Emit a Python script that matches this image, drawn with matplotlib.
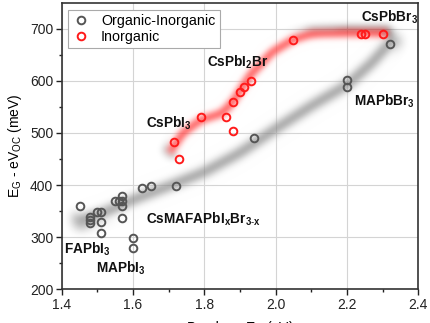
import numpy as np
import matplotlib
matplotlib.use("Agg")
import matplotlib.pyplot as plt

plt.rcParams['font.family'] = ['Liberation Sans', 'DejaVu Sans']
plt.rcParams['mathtext.fontset'] = 'custom'
plt.rcParams['mathtext.rm'] = 'Liberation Sans'
plt.rcParams['mathtext.bf'] = 'Liberation Sans:bold'
plt.rcParams['mathtext.it'] = 'Liberation Sans:italic'

# Organic-inorganic perovskites: bandgap (eV) vs. Voc deficit (meV)
hybrid_eg = [1.45, 1.48, 1.48, 1.48, 1.50, 1.51, 1.51, 1.51, 1.55, 1.56, 1.57,
             1.57, 1.57, 1.57, 1.60, 1.60, 1.625, 1.65, 1.72, 1.94, 2.20, 2.20, 2.32]
hybrid_loss = [360, 339, 333, 328, 349, 349, 329, 309, 369, 369, 380,
               369, 359, 337, 299, 279, 395, 399, 399, 490, 601, 589, 670]

# All-inorganic perovskites
inorg_eg = [1.715, 1.73, 1.79, 1.86, 1.88, 1.88, 1.90, 1.91, 1.93, 2.05, 2.24, 2.25, 2.30]
inorg_loss = [483, 450, 530, 530, 503, 560, 579, 589, 600, 679, 690, 690, 690]

# Guide-to-the-eye trends
hybrid_trend_x = [1.44, 1.52, 1.60, 1.70, 1.80, 1.90, 2.00, 2.10, 2.20, 2.27, 2.335]
hybrid_trend_y = [330, 348, 372, 398, 425, 462, 508, 552, 592, 635, 684]
inorg_trend_x = [1.70, 1.74, 1.79, 1.85, 1.88, 1.93, 1.99, 2.05, 2.10, 2.20, 2.32]
inorg_trend_y = [460, 500, 525, 538, 560, 612, 655, 680, 690, 692, 692]

# Compound labels: (text, x, y)
labels = [
    (r"CsPbBr$_\mathbf{3}$", 2.238, 714),
    (r"CsPbI$_\mathbf{2}$Br", 1.807, 628),
    (r"CsPbI$_\mathbf{3}$", 1.636, 510),
    (r"MAPbBr$_\mathbf{3}$", 2.220, 552),
    (r"CsMAFAPbI$_\mathbf{x}$Br$_\mathbf{3\text{-}x}$", 1.636, 327),
    (r"FAPbI$_\mathbf{3}$", 1.406, 269),
    (r"MAPbI$_\mathbf{3}$", 1.496, 232),
]


def gaussian_blur(sigma_pt):
    """agg_filter that softens an artist with a separable Gaussian kernel."""
    def _filter(im, dpi):
        s = sigma_pt * dpi / 72.0
        pad = int(np.ceil(3 * s))
        out = np.pad(im, ((pad, pad), (pad, pad), (0, 0)))
        r = np.arange(-pad, pad + 1)
        k = np.exp(-0.5 * (r / s) ** 2)
        k /= k.sum()
        for axis in (0, 1):
            acc = np.zeros_like(out)
            for off, w in zip(r, k):
                acc += w * np.roll(out, off, axis=axis)
            out = acc
        return out, -pad, -pad
    return _filter


fig = plt.figure(figsize=(4.30, 3.23), dpi=100)
ax = fig.add_axes([0.1435, 0.1043, 0.8293, 0.8873])

ax.set_xlim(1.4, 2.4)
ax.set_ylim(200, 750)
ax.set_xticks([1.4, 1.6, 1.8, 2.0, 2.2, 2.4])
ax.set_yticks([200, 300, 400, 500, 600, 700])
ax.set_xticks(np.arange(1.5, 2.4, 0.2), minor=True)
ax.set_yticks([250, 350, 450, 550, 650], minor=True)
ax.tick_params(axis='both', which='major', direction='out', length=4, width=1,
               labelsize=10, colors='#222222', pad=2)
ax.tick_params(axis='both', which='minor', direction='out', length=2.5, width=1,
               colors='#222222')
for sp in ax.spines.values():
    sp.set_linewidth(1.2)
    sp.set_color('#333333')

ax.grid(True, which='major', color='#d4d4d4', linewidth=0.8)
ax.set_axisbelow(True)

band_g, = ax.plot(hybrid_trend_x, hybrid_trend_y, color='#707070', lw=9,
                  alpha=0.85, solid_capstyle='butt', solid_joinstyle='round', zorder=2)
band_g.set_agg_filter(gaussian_blur(3.8))
band_r, = ax.plot(inorg_trend_x, inorg_trend_y, color='#ff2a2a', lw=7.5,
                  alpha=0.85, solid_capstyle='butt', solid_joinstyle='round', zorder=2)
band_r.set_agg_filter(gaussian_blur(2.8))

ax.plot(hybrid_eg, hybrid_loss, linestyle='none', marker='o', ms=5.5, mew=1.4,
        mfc='none', mec='#555555', zorder=4, label='Organic-Inorganic')
ax.plot(inorg_eg, inorg_loss, linestyle='none', marker='o', ms=5.5, mew=1.4,
        mfc='none', mec='#ff1a1a', zorder=4, label='Inorganic')

for text, x, y in labels:
    ax.text(x, y, text, fontsize=9.8, fontweight='bold', color='#111111',
            ha='left', va='baseline', zorder=5)

leg = ax.legend(loc='upper left', bbox_to_anchor=(0.018, 0.975), borderaxespad=0,
                fontsize=10.3, frameon=True, fancybox=False, framealpha=1,
                edgecolor='#aaaaaa', handlelength=1.2, handletextpad=0.8,
                borderpad=0.3, labelspacing=0.12)
leg.get_frame().set_linewidth(0.8)

ax.set_ylabel(r"E$_\mathrm{G}$ - eV$_\mathrm{OC}$ (meV)", fontsize=10, labelpad=4)
ax.set_xlabel(r"Bandgap E$_\mathrm{G}$ (eV)", fontsize=10, labelpad=5)

fig.savefig("out.png", dpi=100)
